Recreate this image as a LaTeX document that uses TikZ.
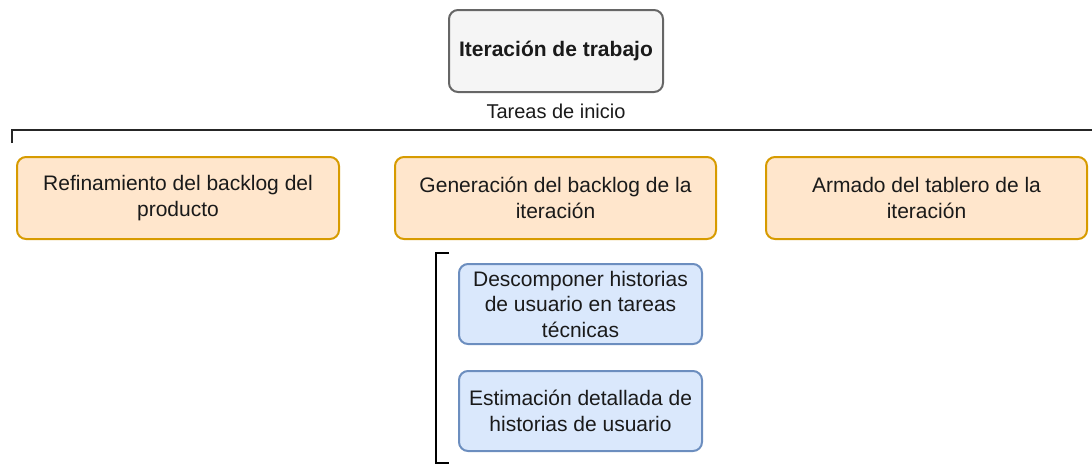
\documentclass[tikz,border=0pt]{standalone}
\usepackage{fontspec}
\setmainfont{Liberation Sans}
\definecolor{grayfill}{HTML}{F5F5F5}
\definecolor{grayline}{HTML}{666666}
\definecolor{orfill}{HTML}{FFE6CC}
\definecolor{orline}{HTML}{D79B00}
\definecolor{blfill}{HTML}{DAE8FC}
\definecolor{blline}{HTML}{6C8EBF}
\definecolor{txt}{HTML}{1A1A1A}
\begin{document}
\begin{tikzpicture}[x=1pt,y=-1pt,
  box/.style={rounded corners=9pt, line width=2pt, align=center, text=txt,
    font=\fontsize{21}{25.5}\selectfont, inner sep=0pt},
  graybox/.style={box, fill=grayfill, draw=grayline, font=\fontsize{21}{25.5}\selectfont\bfseries},
  orbox/.style={box, fill=orfill, draw=orline},
  blbox/.style={box, fill=blfill, draw=blline},
  brk/.style={line width=2.8pt, draw=black!85}
]
\useasboundingbox (0,0) rectangle (1092,464);
\node[graybox, minimum width=214pt, minimum height=82pt] (top) at (556,51) {Iteración de trabajo};
\node[font=\fontsize{20}{24}\selectfont, text=txt] (lbl) at (556,111) {Tareas de inicio};
\coordinate (hl) at (12,143);
\coordinate (hc) at (12,130);
\coordinate (hr) at (1094,130);
\draw[brk] (hl) -- (hc) -- (hr);
\node[orbox, minimum width=322pt, minimum height=82pt] (o1) at (178,198) {Refinamiento del backlog del\\producto};
\node[orbox, minimum width=321pt, minimum height=82pt] (o2) at (555.5,198) {Generación del backlog de la\\iteración};
\node[orbox, minimum width=321pt, minimum height=82pt] (o3) at (926.5,198) {Armado del tablero de la\\iteración};
\coordinate (vt) at (449,253);
\coordinate (vtl) at (436,253);
\coordinate (vbl) at (436,463);
\coordinate (vb) at (449,463);
\draw[line width=2.4pt, draw=black] (vt) -- (vtl) -- (vbl) -- (vb);
\node[blbox, minimum width=243pt, minimum height=80pt] (b1) at (580.5,304) {Descomponer historias\\de usuario en tareas\\técnicas};
\node[blbox, minimum width=243pt, minimum height=80pt] (b2) at (580.5,411) {Estimación detallada de\\historias de usuario};
\end{tikzpicture}
\end{document}
